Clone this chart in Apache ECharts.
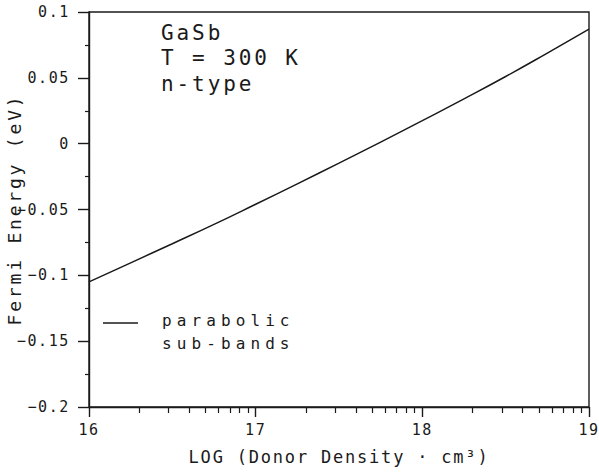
<!DOCTYPE html>
<html>
<head>
<meta charset="utf-8">
<script src="https://cdn.jsdelivr.net/npm/echarts@6/dist/echarts.min.js"></script>
<style>
  html, body { margin: 0; padding: 0; background: #fff; }
  #chart { width: 599px; height: 476px; }
  #chart text[style*="21px"] { letter-spacing: 2.9px; }
  #chart text[style*="16px"] { letter-spacing: 5.1px; }
  #chart text[style*="15px"] { letter-spacing: 1.6px; }
  #chart text[style*="17px"] { letter-spacing: 1.8px; }
  #chart text[style*="18px"] { letter-spacing: 2.8px; }
</style>
</head>
<body>
<div id="chart"></div>
<script>
// ---- data ----
const logDensity = [16.0, 16.25, 16.5, 16.75, 17.0, 17.25, 17.5, 17.75, 18.0, 18.25, 18.5, 18.75, 19.0];
const fermiEnergy = [-0.105, -0.0905, -0.076, -0.0613, -0.046, -0.0305, -0.0148, 0.0012, 0.0175, 0.034, 0.051, 0.0688, 0.087];
const xMajorTicks = [16, 17, 18, 19];
const yMajorTicks = [-0.2, -0.15, -0.1, -0.05, 0, 0.05, 0.1];
const decades = [16, 17, 18];
const minorMultipliers = [2, 3, 4, 5, 6, 7, 8, 9];
const annotationLines = ['GaSb', 'T = 300 K', 'n-type'];
const legendLines = ['parabolic', 'sub-bands'];
const xName = 'LOG (Donor Density \u00b7 cm\u00b3)';
const yName = 'Fermi Energy (eV)';

const minorXTicks = [];
decades.forEach(d => minorMultipliers.forEach(m => minorXTicks.push(d + Math.log10(m))));

const MONO = 'DejaVu Sans Mono';
const INK = '#1a1a1a';

const chart = echarts.init(document.getElementById('chart'), null, { renderer: 'svg' });

chart.setOption({
  animation: false,
  backgroundColor: '#fff',
  grid: {
    left: 89, top: 12, right: 10, bottom: 69,
    outerBoundsMode: 'none',
    containLabel: false,
    show: true, borderColor: INK, borderWidth: 1.4, backgroundColor: 'transparent'
  },
  xAxis: [{
    type: 'value',
    min: 16, max: 19, interval: 1,
    name: xName,
    nameLocation: 'middle',
    nameGap: 41,
    nameMoveOverlap: false,
    nameTextStyle: { fontFamily: MONO, fontSize: 17, color: INK },
    axisLine: { show: true, onZero: false, lineStyle: { color: INK, width: 1.4 } },
    axisTick: { show: true, inside: false, length: 10, lineStyle: { color: INK, width: 1.4 }, customValues: xMajorTicks },
    axisLabel: { show: true, margin: 15, fontFamily: MONO, fontSize: 15, color: INK, customValues: xMajorTicks,
      formatter: v => String(Math.round(v)) },
    splitLine: { show: false }
  }, {
    type: 'value',
    gridIndex: 0,
    position: 'bottom',
    min: 16, max: 19, interval: 1,
    axisLine: { show: false, onZero: false },
    axisTick: { show: true, inside: false, length: 6, lineStyle: { color: INK, width: 1.2 }, customValues: minorXTicks },
    axisLabel: { show: false },
    splitLine: { show: false }
  }],
  yAxis: {
    type: 'value',
    min: -0.2, max: 0.1, interval: 0.05,
    name: yName,
    nameLocation: 'middle',
    nameGap: 66,
    nameMoveOverlap: false,
    nameRotate: 90,
    nameTextStyle: { fontFamily: MONO, fontSize: 18, color: INK },
    axisLine: { show: true, onZero: false, lineStyle: { color: INK, width: 1.4 } },
    axisTick: { show: true, inside: false, length: 11, lineStyle: { color: INK, width: 1.4 } },
    minorTick: { show: true, splitNumber: 2, length: 4, lineStyle: { color: INK, width: 1.2 } },
    axisLabel: { margin: 19, fontFamily: MONO, fontSize: 15, color: INK,
      formatter: v => {
        const r = parseFloat(Number(v).toFixed(3));
        return r < 0 ? '\u2212' + String(-r) : String(r);
      } },
    splitLine: { show: false }
  },
  series: [{
    type: 'line',
    name: legendLines.join(' '),
    xAxisIndex: 0,
    data: logDensity.map((x, i) => [x, fermiEnergy[i]]),
    smooth: true,
    showSymbol: false,
    lineStyle: { color: INK, width: 1.5 },
    z: 3
  }],
  graphic: [
    { type: 'text', left: 161, top: 22, style: { text: annotationLines[0], fontFamily: MONO, fontSize: 21, fill: INK } },
    { type: 'text', left: 161, top: 47, style: { text: annotationLines[1], fontFamily: MONO, fontSize: 21, fill: INK } },
    { type: 'text', left: 161, top: 73, style: { text: annotationLines[2], fontFamily: MONO, fontSize: 21, fill: INK } },
    { type: 'line', shape: { x1: 103, y1: 323, x2: 138, y2: 323 }, style: { stroke: INK, lineWidth: 1.3 } },
    { type: 'text', left: 162, top: 312, style: { text: legendLines[0], fontFamily: MONO, fontSize: 16, fill: INK } },
    { type: 'text', left: 162, top: 335, style: { text: legendLines[1], fontFamily: MONO, fontSize: 16, fill: INK } }
  ]
});
</script>
</body>
</html>
